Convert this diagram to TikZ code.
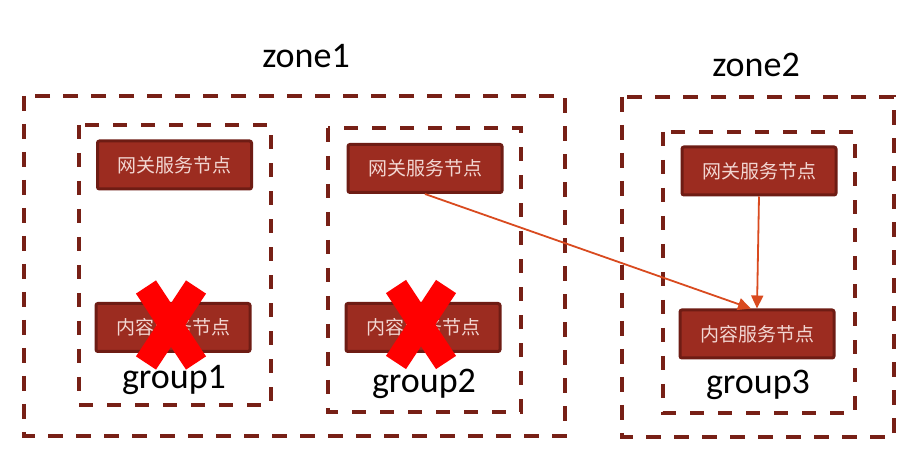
\documentclass[tikz,border=0pt]{standalone}
\usepackage{fontspec}
\setmainfont{Carlito}
\newfontfamily\cjk{Noto Sans CJK SC}
\usetikzlibrary{arrows.meta,calc}
\definecolor{dashc}{HTML}{772016}
\definecolor{boxfill}{HTML}{9C2C20}
\definecolor{boxline}{HTML}{6E1C14}
\definecolor{boxtext}{HTML}{F2D6D2}
\definecolor{arrc}{HTML}{D94A1F}
\tikzset{
  zonebox/.style={draw=dashc,line width=4pt,dash pattern=on 15pt off 13pt},
  groupbox/.style={draw=dashc,line width=3.3pt,dash pattern=on 14pt off 14pt},
  svc/.style={draw=boxline,fill=boxfill,line width=3pt,rounded corners=2pt,
    minimum width=154pt,minimum height=48pt,inner sep=0pt,
    text=boxtext,font=\cjk\fontsize{19}{21}\selectfont},
  lbl/.style={font=\fontsize{36}{40}\selectfont,anchor=base,inner sep=0pt},
  arr/.style={draw=arrc,line width=1.8pt,-{Triangle[length=13pt,width=12pt]}},
  cross/.style={draw=red,line width=24pt}
}
\begin{document}
\begin{tikzpicture}[x=1pt,y=-1pt]
\useasboundingbox[fill=white] (0,0) rectangle (919,462);
% zones
\draw[zonebox] (24,96) rectangle (565,436);
\draw[zonebox] (622,97) rectangle (894,437);
% groups
\draw[groupbox] (79,125) rectangle (271,405);
\draw[groupbox] (328,128) rectangle (521,412);
\draw[groupbox] (663,132) rectangle (855,413);
% titles
\node[lbl] (z1) at (306,68) {zone1};
\node[lbl] (z2) at (756,77) {zone2};
\node[lbl] (g1) at (174,389) {group1};
\node[lbl] (g2) at (424,392) {group2};
\node[lbl] (g3) at (758,394) {group3};
% service nodes
\node[svc] (gw1) at (174.5,165) {网关服务节点};
\node[svc] (ct1) at (173,327.5) {内容服务节点};
\node[svc] (gw2) at (425,168.5) {网关服务节点};
\node[svc] (ct2) at (423,327.5) {内容服务节点};
\node[svc] (gw3) at (759,171) {网关服务节点};
\node[svc] (ct3) at (757,334) {内容服务节点};
% arrows
\draw[arr] (gw2.south) -- ([xshift=-6pt]ct3.north);
\draw[arr] (gw3.south) -- (ct3.north);
% crosses
\coordinate (x1) at ($(ct1.center)+(-2,-2.5)$);
\coordinate (x2) at ($(ct2.center)+(-2,-3)$);
\draw[cross] ($(x1)+(-25,-38)$) -- ($(x1)+(25,38)$);
\draw[cross] ($(x1)+(25,-38)$) -- ($(x1)+(-25,38)$);
\draw[cross] ($(x2)+(-25,-38)$) -- ($(x2)+(25,38)$);
\draw[cross] ($(x2)+(25,-38)$) -- ($(x2)+(-25,38)$);
\end{tikzpicture}
\end{document}
